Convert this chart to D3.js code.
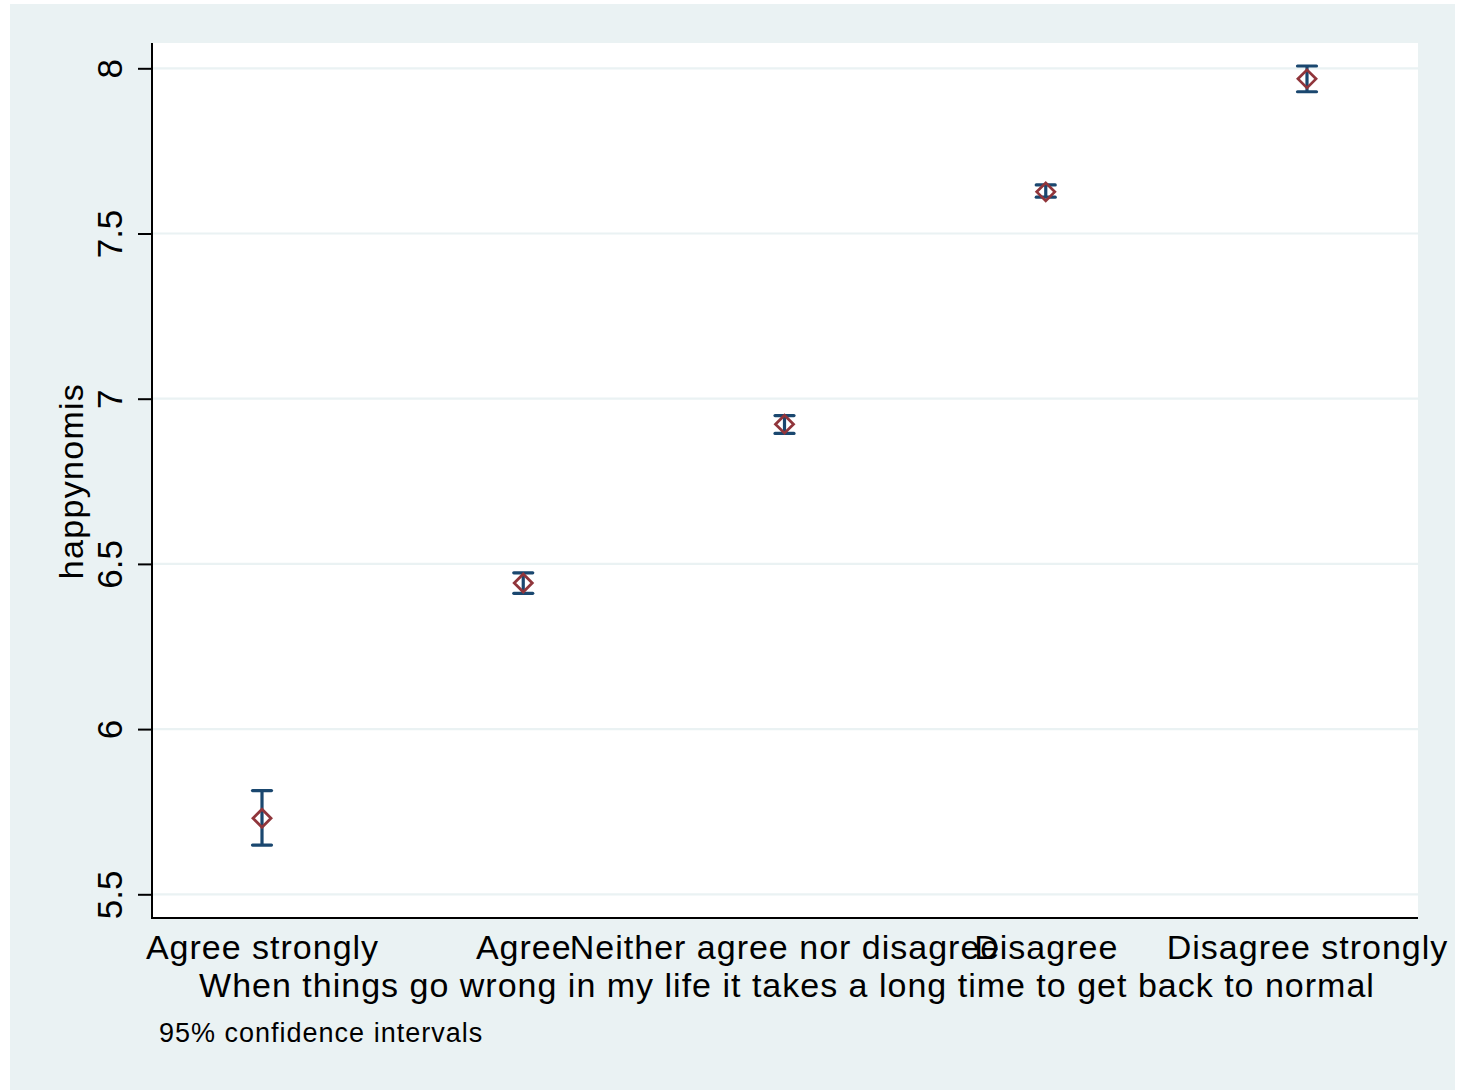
<!DOCTYPE html>
<html>
<head>
<meta charset="utf-8">
<script src="https://cdn.jsdelivr.net/npm/d3@7"></script>
<style>
  html, body { margin: 0; padding: 0; background: #ffffff; }
  svg { display: block; font-family: "Liberation Sans", Arial, Helvetica, sans-serif; }
</style>
</head>
<body>
<svg id="chart" width="1476" height="1090"></svg>
<script>
// Response categories for the resilience item
const categories = ["Agree strongly", "Agree", "Neither agree nor disagree", "Disagree", "Disagree strongly"];
// Predicted mean of happynomis per category, with 95% CI bounds
const means = [5.730, 6.442, 6.923, 7.626, 7.968];
const lower = [5.649, 6.411, 6.895, 7.610, 7.929];
const upper = [5.814, 6.473, 6.949, 7.647, 8.007];
// Y axis ticks
const yTicks = [5.5, 6, 6.5, 7, 7.5, 8];
const yTickLabels = ["5.5", "6", "6.5", "7", "7.5", "8"];

const xTitle = "When things go wrong in my life it takes a long time to get back to normal";
const yTitle = "happynomis";
const note = "95% confidence intervals";

const svg = d3.select("#chart");

// Graph region and plot region
const outer = { x0: 10, y0: 4, x1: 1455, y1: 1090 };
const plot = { left: 152, right: 1418, top: 43, bottom: 918 };

svg.append("rect")
  .attr("x", outer.x0).attr("y", outer.y0)
  .attr("width", outer.x1 - outer.x0).attr("height", outer.y1 - outer.y0)
  .attr("fill", "#eaf2f3");

svg.append("rect")
  .attr("x", plot.left).attr("y", plot.top)
  .attr("width", plot.right - plot.left).attr("height", plot.bottom - plot.top)
  .attr("fill", "#ffffff");

const x = d3.scalePoint()
  .domain(categories)
  .range([plot.left + 110, plot.right - 111]);

const y = d3.scaleLinear()
  .domain([5.5, 8])
  .range([894.3, 68.3]);

// Horizontal grid lines
svg.append("g").selectAll("line")
  .data(yTicks)
  .join("line")
  .attr("x1", plot.left).attr("x2", plot.right)
  .attr("y1", d => y(d)).attr("y2", d => y(d))
  .attr("stroke", "#eaf2f3").attr("stroke-width", 2.2);

// Y axis
const yAxis = d3.axisLeft(y)
  .tickValues(yTicks)
  .tickFormat((d, i) => yTickLabels[i])
  .tickSize(14)
  .tickSizeOuter(0);

const gy = svg.append("g")
  .attr("transform", `translate(${plot.left},0)`)
  .call(yAxis);
gy.select(".domain").remove();
gy.selectAll(".tick line").attr("stroke", "#000").attr("stroke-width", 2);
gy.selectAll(".tick text")
  .attr("x", null).attr("dy", null)
  .attr("transform", "translate(-30,0) rotate(-90)")
  .attr("text-anchor", "middle")
  .attr("font-size", 35)
  .attr("fill", "#000");

svg.append("line")
  .attr("x1", plot.left).attr("x2", plot.left)
  .attr("y1", plot.top).attr("y2", plot.bottom + 1)
  .attr("stroke", "#000").attr("stroke-width", 2);

// X axis
const xAxis = d3.axisBottom(x).tickSize(0).tickSizeOuter(0);
const gx = svg.append("g")
  .attr("transform", `translate(0,${plot.bottom})`)
  .call(xAxis);
gx.select(".domain").remove();
gx.selectAll(".tick line").remove();
gx.selectAll(".tick text")
  .attr("y", 41).attr("dy", null)
  .attr("font-size", 34)
  .attr("letter-spacing", "1px")
  .attr("fill", "#000");

svg.append("line")
  .attr("x1", plot.left - 1).attr("x2", plot.right)
  .attr("y1", plot.bottom).attr("y2", plot.bottom)
  .attr("stroke", "#000").attr("stroke-width", 2);

// Axis titles and note
svg.append("text")
  .attr("x", (plot.left + plot.right) / 2 + 2)
  .attr("y", 997)
  .attr("text-anchor", "middle")
  .attr("font-size", 34)
  .attr("letter-spacing", "1px")
  .text(xTitle);

svg.append("text")
  .attr("transform", `translate(83,${481}) rotate(-90)`)
  .attr("text-anchor", "middle")
  .attr("font-size", 34)
  .attr("letter-spacing", "1.3px")
  .text(yTitle);

svg.append("text")
  .attr("x", 159)
  .attr("y", 1042)
  .attr("font-size", 27)
  .attr("letter-spacing", "1px")
  .text(note);

// Confidence intervals with caps
const rows = categories.map((c, i) => ({ c, m: means[i], lo: lower[i], hi: upper[i] }));
const capHalf = 9.5;
const ci = svg.append("g")
  .attr("stroke", "#1a476f")
  .attr("stroke-width", 3.2)
  .attr("fill", "none");

ci.selectAll("line.stem").data(rows).join("line")
  .attr("class", "stem")
  .attr("x1", d => x(d.c)).attr("x2", d => x(d.c))
  .attr("y1", d => y(d.hi)).attr("y2", d => y(d.lo));
ci.selectAll("line.capHi").data(rows).join("line")
  .attr("class", "capHi")
  .attr("x1", d => x(d.c) - capHalf).attr("x2", d => x(d.c) + capHalf)
  .attr("y1", d => y(d.hi)).attr("y2", d => y(d.hi))
  .attr("stroke-linecap", "round");
ci.selectAll("line.capLo").data(rows).join("line")
  .attr("class", "capLo")
  .attr("x1", d => x(d.c) - capHalf).attr("x2", d => x(d.c) + capHalf)
  .attr("y1", d => y(d.lo)).attr("y2", d => y(d.lo))
  .attr("stroke-linecap", "round");

// Hollow diamond markers at the means
const dR = 9;
svg.append("g").selectAll("path").data(rows).join("path")
  .attr("d", d => {
    const cx = x(d.c), cy = y(d.m);
    return `M${cx},${cy - dR}L${cx + dR},${cy}L${cx},${cy + dR}L${cx - dR},${cy}Z`;
  })
  .attr("fill", "none")
  .attr("stroke", "#90353b")
  .attr("stroke-width", 2.8);
</script>
</body>
</html>
